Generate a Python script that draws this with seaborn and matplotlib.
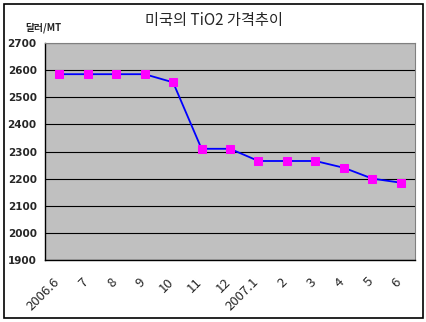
import matplotlib
matplotlib.use("Agg")
import matplotlib.pyplot as plt
import matplotlib.transforms as mtransforms
import seaborn as sns
import pandas as pd
from matplotlib.patches import Rectangle

categories = ["2006.6", "7", "8", "9", "10", "11", "12", "2007.1", "2", "3", "4", "5", "6"]
prices = [2585, 2585, 2585, 2585, 2555, 2310, 2310, 2265, 2265, 2265, 2240, 2200, 2185]
y_ticks = [1900, 2000, 2100, 2200, 2300, 2400, 2500, 2600, 2700]

sns.set_style("white")
plt.rcParams['font.family'] = ['Noto Sans CJK KR', 'DejaVu Sans']

df = pd.DataFrame({"x": list(range(len(categories))), "price": prices})

fig = plt.figure(figsize=(4.27, 3.22), dpi=100)
ax = fig.add_axes([45/427, 1 - 260/322, 370/427, 217/322])
ax.set_facecolor("#c0c0c0")

sns.lineplot(data=df, x="x", y="price", ax=ax, color="#0000ff", linewidth=1.3,
             marker="s", markersize=6, markerfacecolor="#ff00ff", markeredgecolor="#ff00ff")

ax.set_xlim(-0.5, len(categories) - 0.5)
ax.set_ylim(1900, 2700)
ax.set_yticks(y_ticks)
ax.set_yticklabels([str(v) for v in y_ticks], fontsize=7.5, fontweight="bold",
                   family=["DejaVu Sans"])
ax.yaxis.grid(True, color="black", linewidth=0.8)
ax.set_axisbelow(True)
ax.set_xticks(range(len(categories)))
ax.set_xticklabels(categories, rotation=45, ha="right", rotation_mode="anchor", fontsize=9.5)
ax.tick_params(axis="x", length=0, pad=11)
offset = mtransforms.ScaledTranslation(-6/100, 0, fig.dpi_scale_trans)
for lbl in ax.get_xticklabels():
    lbl.set_transform(lbl.get_transform() + offset)
# boundary tick marks inside
ax.set_xticks([i + 0.5 for i in range(len(categories) - 1)], minor=True)
ax.tick_params(axis="x", which="minor", direction="in", length=4, color="black")
ax.tick_params(axis="y", direction="out", length=4, color="black", pad=2)
ax.set_xlabel("")
ax.set_ylabel("")
for s in ["top", "right"]:
    ax.spines[s].set_color("#808080")
    ax.spines[s].set_linewidth(0.8)
for s in ["left", "bottom"]:
    ax.spines[s].set_color("black")
    ax.spines[s].set_linewidth(1.0)

fig.text(214/427, 1 - 20/322, "미국의 TiO2 가격추이", ha="center", va="center", fontsize=11)
fig.text(43/427, 1 - 28/322, "달러/MT", ha="center", va="center", fontsize=7, fontweight="bold")

fig.patches.append(Rectangle((4/427, 4/322), 419/427, 314/322, transform=fig.transFigure,
                             fill=False, edgecolor="black", linewidth=1.2))

fig.savefig("out.png", dpi=100)
